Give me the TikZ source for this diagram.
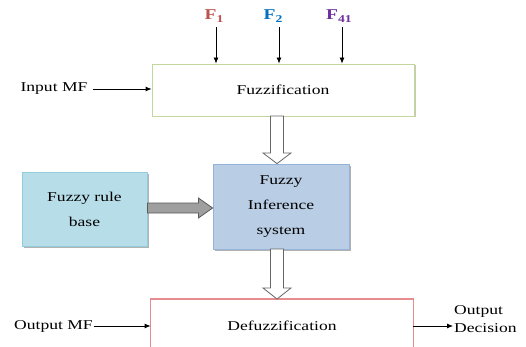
\documentclass[tikz,border=0pt]{standalone}
\usepackage{fontspec}
\setmainfont{Liberation Serif}[FakeStretch=1.3]
\usetikzlibrary{arrows.meta,shadows,calc}
\definecolor{fzgreen}{HTML}{C3D69B}
\definecolor{frbfill}{HTML}{B7DDE8}
\definecolor{frbline}{HTML}{93CDDD}
\definecolor{fisfill}{HTML}{B9CDE5}
\definecolor{fisline}{HTML}{95B3D7}
\definecolor{defuzzred}{RGB}{230,140,140}
\definecolor{fone}{HTML}{C0504D}
\definecolor{ftwo}{HTML}{0070C0}
\definecolor{ffour}{HTML}{7030A0}
\tikzset{
  txt/.style={font=\fontsize{13.5}{16}\selectfont, inner sep=1pt},
  blockbox/.style={line width=0.8pt, font=\fontsize{13.5}{25}\selectfont, align=center, inner sep=0pt},
  flabel/.style={font=\fontsize{15}{16}\selectfont\bfseries, inner sep=1pt},
  sig/.style={line width=0.8pt, -{Latex[length=6pt,width=5pt]}},
  hollow/.style={draw=gray!80!black, fill=white, line width=0.8pt, line join=miter},
  grayarrow/.style={draw=gray!70!black, fill=gray!75, line width=0.8pt},
  shad/.style={drop shadow={shadow xshift=2pt, shadow yshift=-2pt, fill=gray!60, opacity=1}}
}
\begin{document}
\begin{tikzpicture}[x=1pt,y=-1pt]
\useasboundingbox (0,0) rectangle (526,347);
\clip (0,0) rectangle (526,347);
% blocks
\node[blockbox, draw=fzgreen, minimum width=262pt, minimum height=52pt,
      drop shadow={shadow xshift=1.5pt, shadow yshift=-1.5pt, fill=fzgreen!80!black!60, opacity=1}, fill=white] (fuzz) at (283,90) {Fuzzification};
\node[blockbox, draw=fisline, fill=fisfill, shad, minimum width=136pt, minimum height=85pt] (fis) at (281,206.5) {Fuzzy\\Inference\\system};
\node[blockbox, draw=frbline, fill=frbfill, shad, minimum width=125pt, minimum height=74pt] (frb) at (84.5,209) {Fuzzy rule\\base};
\node[blockbox, minimum width=262pt, minimum height=80pt, anchor=north] (defuzz) at (282,299) {};
\draw[defuzzred, line width=1.1pt] (defuzz.south west) rectangle (defuzz.north east);
\node[txt] (deftxt) at (282,326) {Defuzzification};
% inputs F
\node[flabel, text=fone] (f1) at (214,16) {F\raisebox{-0.25em}{\fontsize{10.5}{11}\selectfont 1}};
\node[flabel, text=ftwo] (f2) at (273,16) {F\raisebox{-0.25em}{\fontsize{10.5}{11}\selectfont 2}};
\node[flabel, text=ffour] (f41) at (339,16) {F\raisebox{-0.25em}{\fontsize{10.5}{11}\selectfont 41}};
\coordinate (f1s) at (216,27);
\coordinate (f2s) at (279,27);
\coordinate (f41s) at (342,27);
\draw[sig] (f1s) -- (f1s |- fuzz.north);
\draw[sig] (f2s) -- (f2s |- fuzz.north);
\draw[sig] (f41s) -- (f41s |- fuzz.north);
% input MF
\node[txt] (inmf) at (54,89) {Input MF};
\draw[sig, shorten <=4pt] (inmf.east) -- (inmf.east -| fuzz.west);
% output MF
\node[txt] (outmf) at (53.5,326) {Output MF};
\draw[sig] (outmf.east) -- (outmf.east -| defuzz.west);
% output decision
\node[txt, anchor=west, align=left, font=\fontsize{13.5}{18}\selectfont, inner sep=1pt] (outdec) at (453,319) {Output\\Decision};
\coordinate (dright) at (413,326);
\draw[sig] (dright) -- (453,326);
% hollow arrow fuzz -> fis
\coordinate (h1) at (277,116);
\draw[hollow] ($(h1)+(-6.5,0)$) -- ($(h1)+(6.5,0)$) -- ($(h1)+(6.5,37)$) -- ($(h1)+(14,37)$)
  -- (h1 |- fis.north) -- ($(h1)+(-14,37)$) -- ($(h1)+(-6.5,37)$) -- cycle;
% hollow arrow fis -> defuzz
\coordinate (h2) at (277,249);
\draw[hollow] ($(h2)+(-6.5,0)$) -- ($(h2)+(6.5,0)$) -- ($(h2)+(6.5,39)$) -- ($(h2)+(14,39)$)
  -- (h2 |- defuzz.north) -- ($(h2)+(-14,39)$) -- ($(h2)+(-6.5,39)$) -- cycle;
% gray arrow frb -> fis
\coordinate (g) at (frb.east |- 0,208);
\draw[grayarrow] ($(g)+(0,-5)$) -- ($(g)+(51,-5)$) -- ($(g)+(51,-10)$) -- (fis.west |- g)
  -- ($(g)+(51,10)$) -- ($(g)+(51,5)$) -- ($(g)+(0,5)$) -- cycle;
\end{tikzpicture}
\end{document}
